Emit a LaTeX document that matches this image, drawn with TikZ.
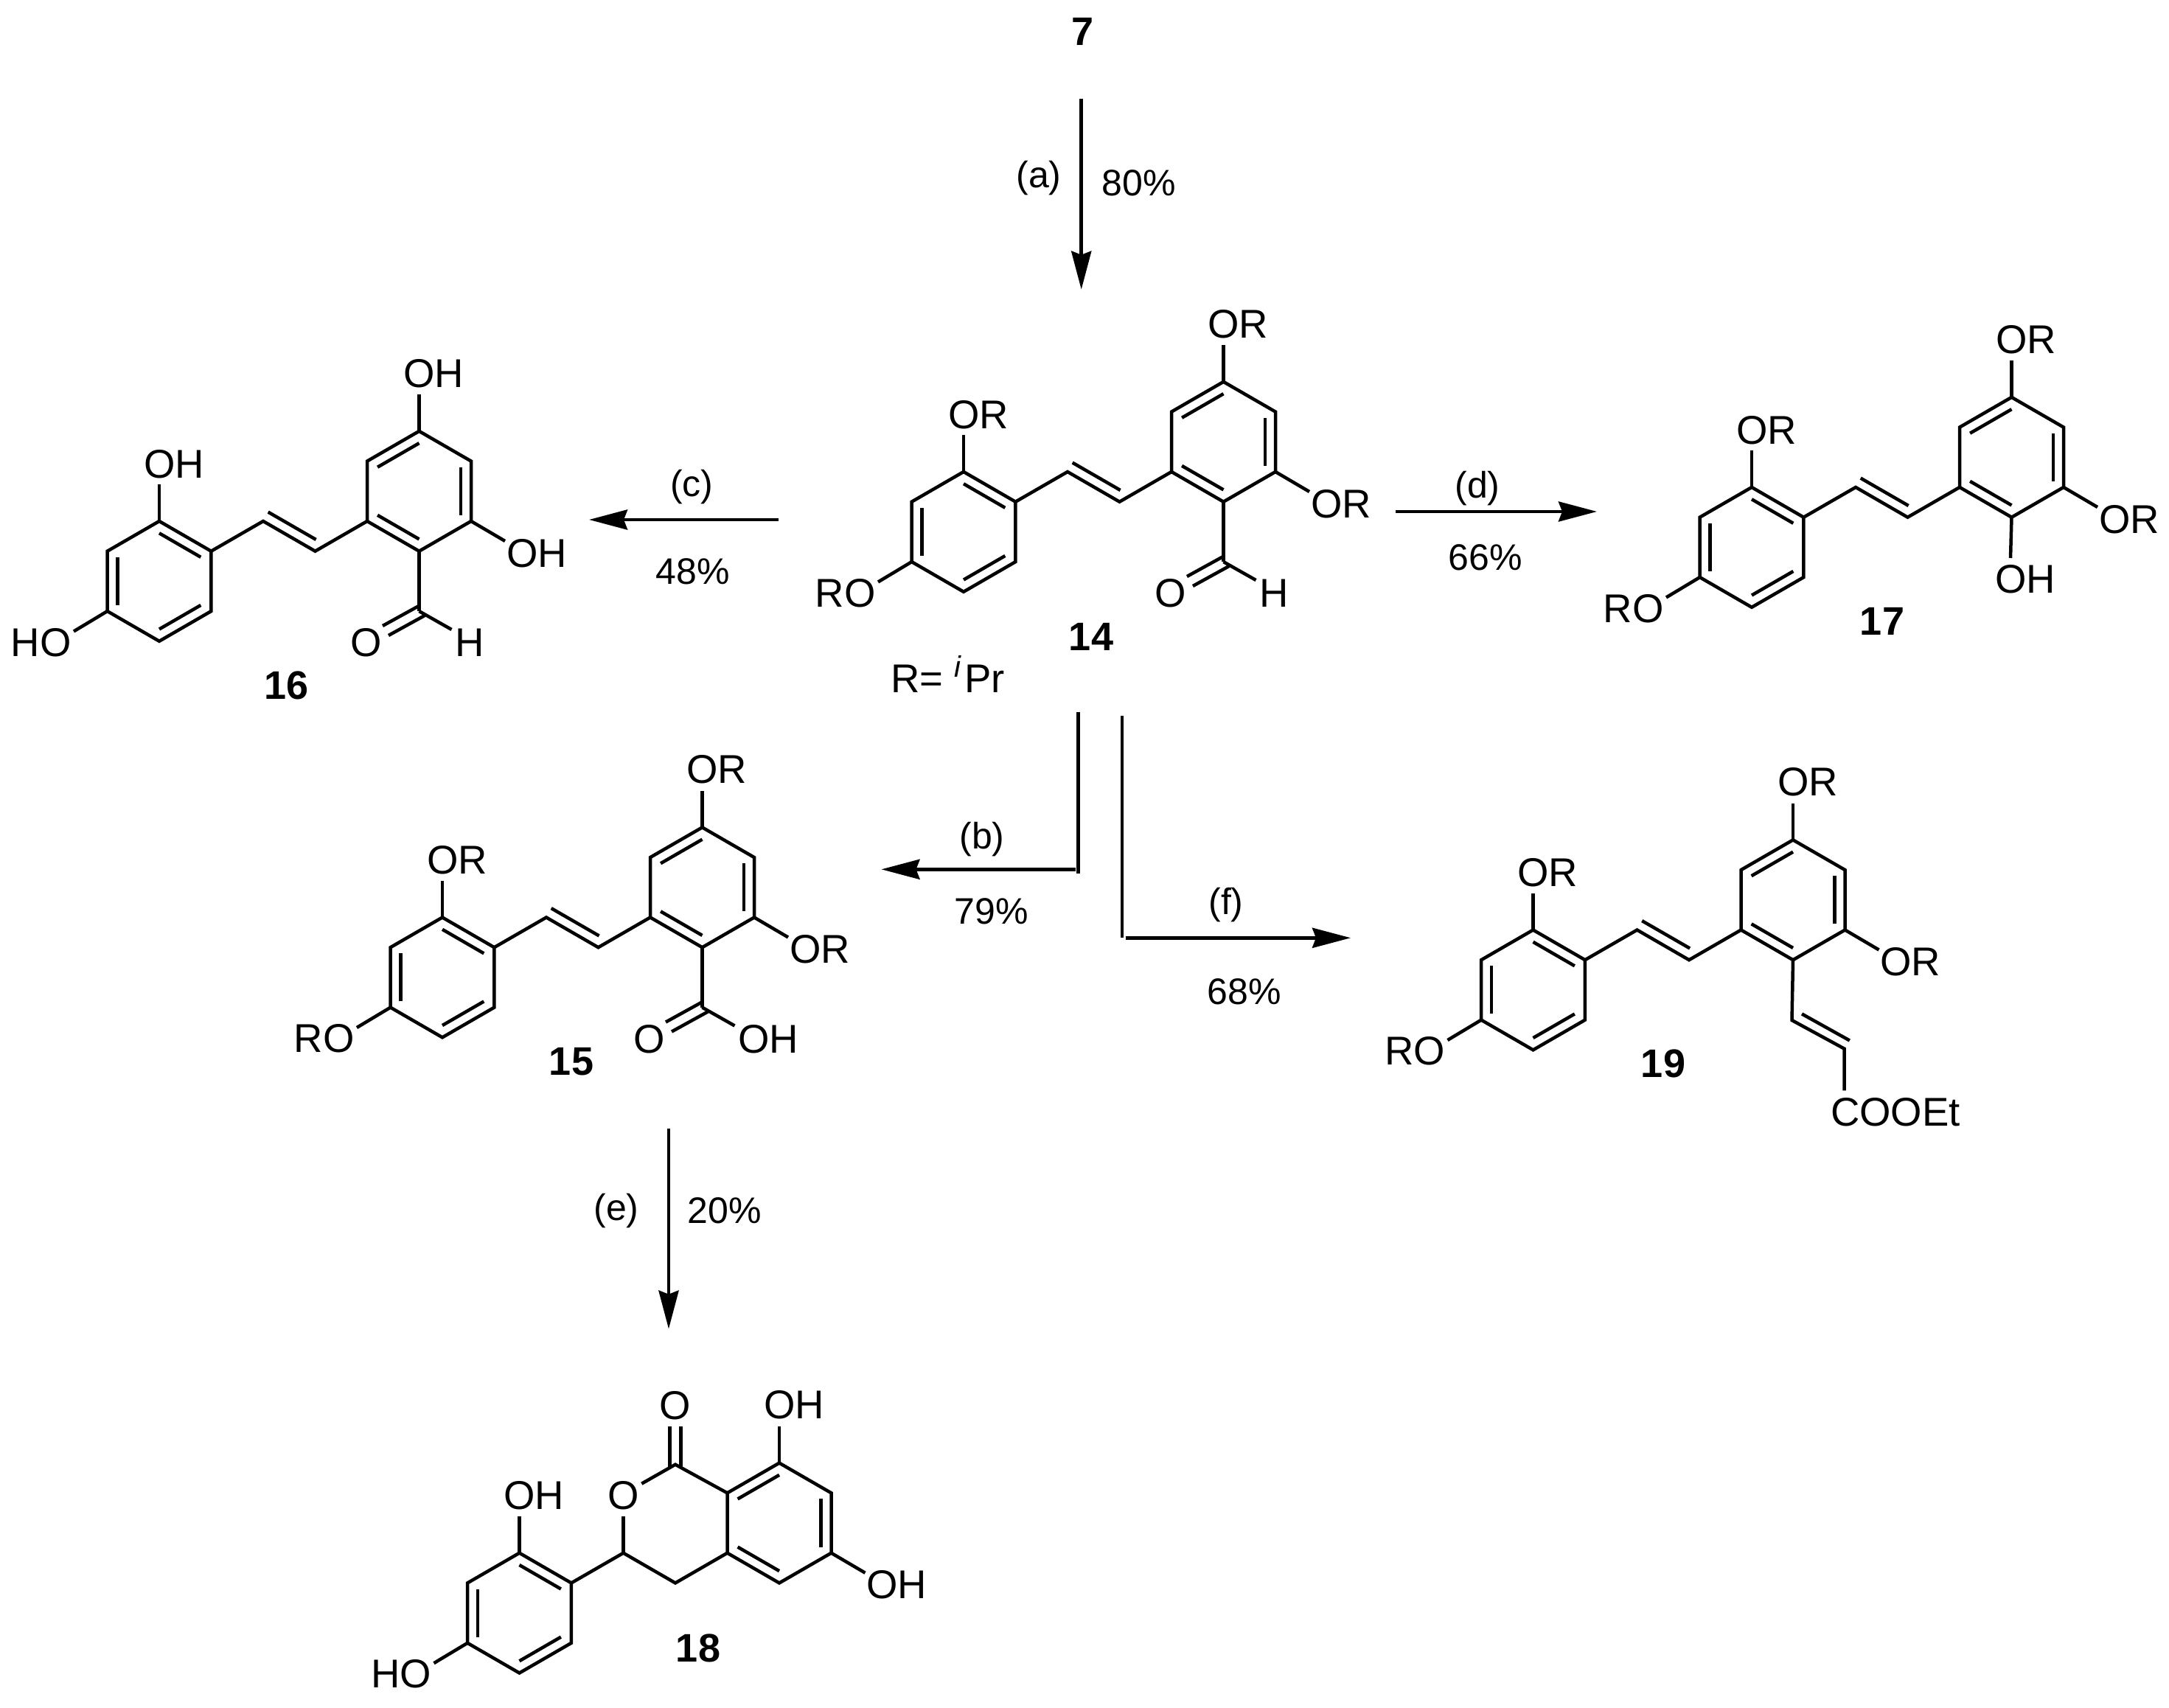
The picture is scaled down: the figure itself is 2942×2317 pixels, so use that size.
\documentclass[tikz,border=0pt]{standalone}
\usepackage{fontspec}
\setmainfont{Liberation Sans}
\usetikzlibrary{arrows.meta,calc}

\tikzset{
  bondline/.style={draw=black,line width=4.5pt},
  atomlabel/.style={inner sep=0pt,font=\fontsize{54.5}{60}\selectfont},
  reactlabel/.style={inner sep=0pt,font=\fontsize{50}{60}\selectfont},
  cmpdlabel/.style={inner sep=0pt,font=\fontsize{54}{60}\selectfont\bfseries},
  arrowline/.style={-{Stealth[length=52pt,width=27pt,inset=5pt]},draw=black,line width=4.5pt},
  plainline/.style={draw=black,line width=4.5pt}
}

% prefix, x, y, label on the right ring, label on the left ring
\newcommand{\stilbene}[5]{
\begin{scope}[shift={(#2,#3)}]
\coordinate (#1a1) at (0,0);
\coordinate (#1a2) at (70.4,40.7);
\coordinate (#1a3) at (70.4,122.1);
\coordinate (#1a4) at (0,162.8);
\coordinate (#1a5) at (-70.4,122.1);
\coordinate (#1a6) at (-70.4,40.7);
\coordinate (#1ac) at (0,81.4);
\coordinate (#1v1) at (141,0);
\coordinate (#1v2) at (211.5,40.7);
\coordinate (#1b1) at (352.5,-122.1);
\coordinate (#1b2) at (423,-81.4);
\coordinate (#1b3) at (423,0);
\coordinate (#1b4) at (352.5,40.7);
\coordinate (#1b5) at (282,0);
\coordinate (#1b6) at (282,-81.4);
\coordinate (#1bc) at (352.5,-40.7);
\coordinate (#1e1) at (0,-50);
\coordinate (#1e2) at (-116,149.5);
\coordinate (#1e3) at (352.5,-172);
\coordinate (#1e4) at (469,27);
\node[atomlabel,anchor=base west] (#1l1) at (-21.2,-59) {#4};
\node[atomlabel,anchor=base east] (#1l2) at (-119.3,183) {#5};
\node[atomlabel,anchor=base west] (#1l3) at (331.3,-182) {#4};
\node[atomlabel,anchor=base west] (#1l4) at (470.8,62) {#4};
\end{scope}
\draw [bondline] (#1a1) -- (#1a2) -- (#1a3) -- (#1a4) -- (#1a5) -- (#1a6) -- cycle;
\draw [bondline] (#1b1) -- (#1b2) -- (#1b3) -- (#1b4) -- (#1b5) -- (#1b6) -- cycle;
\draw [bondline] (#1a2) -- (#1v1) -- (#1v2) -- (#1b5);
\draw [bondline] ($(#1ac)!.8!(#1a1)$) -- ($(#1ac)!.8!(#1a2)$);
\draw [bondline] ($(#1ac)!.8!(#1a3)$) -- ($(#1ac)!.8!(#1a4)$);
\draw [bondline] ($(#1ac)!.8!(#1a5)$) -- ($(#1ac)!.8!(#1a6)$);
\draw [bondline] ($(#1bc)!.8!(#1b1)$) -- ($(#1bc)!.8!(#1b6)$);
\draw [bondline] ($(#1bc)!.8!(#1b2)$) -- ($(#1bc)!.8!(#1b3)$);
\draw [bondline] ($(#1bc)!.8!(#1b4)$) -- ($(#1bc)!.8!(#1b5)$);
\draw [bondline] (#1a1) -- (#1e1);
\draw [bondline] (#1a5) -- (#1e2);
\draw [bondline] (#1b1) -- (#1e3);
\draw [bondline] (#1b3) -- (#1e4);
}

% second stroke of the vinyl double bond
\newcommand{\vinyl}[3]{
\begin{scope}[shift={(#2,#3)}]
\coordinate (#1d1) at (147.7,-12.4);
\coordinate (#1d2) at (212.6,25);
\end{scope}
\draw [bondline] (#1d1) -- (#1d2);
}

% prefix, x, y, text beside the carbonyl oxygen
\newcommand{\carbonyl}[4]{
\begin{scope}[shift={(#2,#3)}]
\coordinate (#1c) at (352.5,122.1);
\coordinate (#1c1) at (303,142);
\coordinate (#1c2) at (352,115);
\coordinate (#1c3) at (311,155);
\coordinate (#1c4) at (360,128);
\coordinate (#1c5) at (396.5,147);
\node[atomlabel,anchor=base] (#1ox) at (281,183.5) {O};
\node[atomlabel,anchor=base west] (#1h) at (401,183.5) {#4};
\end{scope}
\draw [bondline] (#1b4) -- (#1c);
\draw [bondline] (#1c) -- (#1c5);
\draw [bondline] (#1c1) -- (#1c2);
\draw [bondline] (#1c3) -- (#1c4);
}

\begin{document}
\begin{tikzpicture}[x=1pt,y=-1pt]
\useasboundingbox (0,0) rectangle (2942,2317);

\stilbene{p}{1307}{640}{OR}{RO}
\vinyl{p}{1307}{640}
\carbonyl{p}{1307}{640}{H}
\stilbene{q}{216}{707}{OH}{HO}
\vinyl{q}{216}{707}
\carbonyl{q}{216}{707}{H}
\stilbene{r}{2376}{661}{OR}{RO}
\vinyl{r}{2376}{661}
\stilbene{s}{600}{1244.5}{OR}{RO}
\vinyl{s}{600}{1244.5}
\carbonyl{s}{600}{1244.5}{OH}
\stilbene{t}{2079.5}{1261.5}{OR}{RO}
\vinyl{t}{2079.5}{1261.5}
\stilbene{u}{704.5}{2106.7}{OH}{HO}

% 17: phenol
\coordinate (re5) at (2727,757);
\node[atomlabel,anchor=base west] (rl5) at (2705.8,804) {OH};
\draw [bondline] (rb4) -- (re5);

% 19: acrylate chain
\coordinate (tc1) at (2430.5,1384);
\coordinate (tc2) at (2501.5,1422.6);
\coordinate (tc3) at (2501.5,1479.4);
\coordinate (td3) at (2444,1375.4);
\coordinate (td4) at (2508.8,1411.5);
\node[atomlabel,anchor=base west] (tl5) at (2483,1527) {COOEt};
\draw [bondline] (tb4) -- (tc1) -- (tc2) -- (tc3);
\draw [bondline] (td3) -- (td4);

% 18: lactone
\coordinate (uc) at (916,1986.7);
\coordinate (ue5) at (845.5,2056.7);
\coordinate (ue6) at (870.3,2012.7);
\coordinate (uf1) at (908.3,1935);
\coordinate (uf2) at (908.3,1990);
\coordinate (uf3) at (923.7,1935);
\coordinate (uf4) at (923.7,1990);
\node[atomlabel,anchor=base] (ul5) at (845.5,2047) {O};
\node[atomlabel,anchor=base] (ul6) at (916,1925.7) {O};
\draw [bondline] (uv1) -- (ue5);
\draw [bondline] (ue6) -- (uc) -- (ub6);
\draw [bondline] (uf1) -- (uf2);
\draw [bondline] (uf3) -- (uf4);

\node[cmpdlabel] (n7) at (1468,43) {7};
\node[cmpdlabel] (n14) at (1480,864) {14};
\node[cmpdlabel] (n15) at (775,1440) {15};
\node[cmpdlabel] (n16) at (389,930) {16};
\node[cmpdlabel] (n17) at (2553,843) {17};
\node[cmpdlabel] (n18) at (947,2236) {18};
\node[cmpdlabel] (n19) at (2256,1443) {19};
\node[atomlabel,anchor=base west] (rgroup) at (1208,939) {R= \raisebox{21pt}{\fontsize{40}{40}\selectfont\itshape i}\kern5pt Pr};

\coordinate (a0) at (1466.7,134);
\coordinate (a1) at (1466.7,392.7);
\coordinate (c0) at (1056,705);
\coordinate (c1) at (799,705);
\coordinate (d0) at (1893.3,694);
\coordinate (d1) at (2166,694);
\coordinate (b0) at (1462.4,965.7);
\coordinate (b1) at (1462.4,1185);
\coordinate (b2) at (1458.6,1179.3);
\coordinate (b3) at (1195.5,1179.3);
\coordinate (f0) at (1522,970.7);
\coordinate (f1) at (1522,1272);
\coordinate (f2) at (1526.6,1272.3);
\coordinate (f3) at (1832,1272.3);
\coordinate (e0) at (907,1531);
\coordinate (e1) at (907,1802.7);

\path (a0) edge [arrowline] node {} (a1);
\path (c0) edge [arrowline] node {} (c1);
\path (d0) edge [arrowline] node {} (d1);
\path (b0) edge [plainline] node {} (b1);
\path (b2) edge [arrowline] node {} (b3);
\path (f0) edge [plainline] node {} (f1);
\path (f2) edge [arrowline] node {} (f3);
\path (e0) edge [arrowline] node {} (e1);

\node[reactlabel] (la) at (1409,241.7) {(a)};
\node[reactlabel] (ya) at (1545,248) {80\%};
\node[reactlabel] (lb) at (1332,1139) {(b)};
\node[reactlabel] (yb) at (1345,1236) {79\%};
\node[reactlabel] (lc) at (938.3,661) {(c)};
\node[reactlabel] (yc) at (940,775) {48\%};
\node[reactlabel] (ld) at (2004,663) {(d)};
\node[reactlabel] (yd) at (2015,756.7) {66\%};
\node[reactlabel] (le) at (836,1642.7) {(e)};
\node[reactlabel] (ye) at (982.7,1642) {20\%};
\node[reactlabel] (lf) at (1663,1228) {(f)};
\node[reactlabel] (yf) at (1688,1345.7) {68\%};
\end{tikzpicture}
\end{document}
